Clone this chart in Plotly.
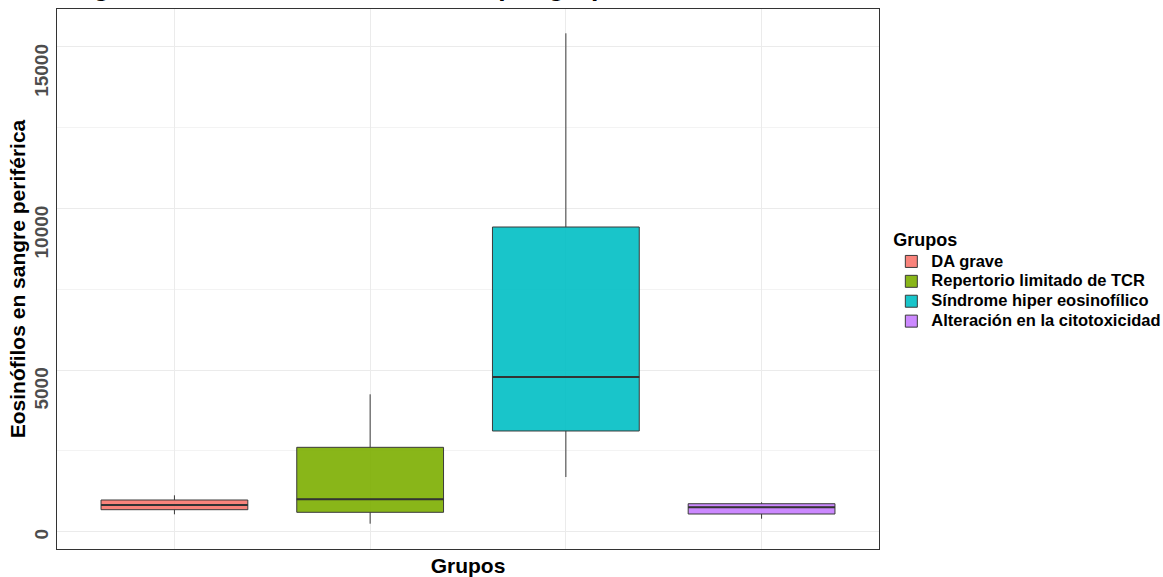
import plotly.graph_objects as go

# Eosinophil counts in peripheral blood, summarised per group
grupos = ["DA grave", "Repertorio limitado de TCR", "Síndrome hiper eosinofílico", "Alteración en la citotoxicidad"]
minimos = [538, 248, 1692, 402]
q1 = [681, 600, 3116, 548]
medianas = [826, 1002, 4786, 755]
q3 = [981, 2611, 9427, 866]
maximos = [1126, 4251, 15420, 910]

colores = ["248,118,109", "124,174,0", "0,191,196", "199,124,255"]
y_ticks = [0, 5000, 10000, 15000]

FONT = "Liberation Sans, Arial, sans-serif"
ANCHO = 0.75
FIG_SPACE = "\u2007"

# rotated labels end at their tick: pad each one with digit-wide spaces
y_ticktext = [str(v) + FIG_SPACE * len(str(v)) for v in y_ticks]

fig = go.Figure()
for i, g in enumerate(grupos):
    fig.add_trace(go.Box(
        x=[i], q1=[q1[i]], median=[medianas[i]], q3=[q3[i]],
        lowerfence=[minimos[i]], upperfence=[maximos[i]],
        name=f'<span style="font-size:16.5px">{g}</span>',
        width=ANCHO, whiskerwidth=0, boxpoints=False,
        fillcolor=f"rgba({colores[i]},0.9)",
        line=dict(color="#3a3a3a", width=1),
        hoverinfo="skip",
    ))
# thicker median bars
for i in range(len(grupos)):
    fig.add_trace(go.Scatter(
        x=[i - ANCHO / 2, i + ANCHO / 2], y=[medianas[i], medianas[i]],
        mode="lines", line=dict(color="#333333", width=2),
        showlegend=False, hoverinfo="skip",
    ))

fig.add_annotation(
    text="<b>Diagrama de eosinófilos absolutos por grupo</b>",
    xref="paper", yref="paper", x=-0.0085, y=1, xanchor="left", yanchor="bottom",
    yshift=5, showarrow=False, font=dict(family=FONT, size=26.5, color="black"),
)

fig.update_layout(
    width=1163, height=577,
    margin=dict(l=57, r=284, t=9, b=28, autoexpand=False),
    paper_bgcolor="white", plot_bgcolor="white",
    boxmode="overlay",
    font=dict(family=FONT, color="black"),
    legend=dict(
        title=dict(text="<b>Grupos</b>", font=dict(size=18, color="black")),
        font=dict(size=13, color="black", weight="bold"),
        x=1.015, xanchor="left", y=0.498, yanchor="middle",
        tracegroupgap=0, itemwidth=30,
    ),
    xaxis=dict(
        range=[-0.6, 3.6], showticklabels=False, ticks="",
        showgrid=True, gridcolor="#EBEBEB", gridwidth=1,
        tickvals=[0, 1, 2, 3], zeroline=False,
        showline=True, mirror=True, linecolor="#333333", linewidth=1,
        title=dict(text="<b>Grupos</b>", font=dict(size=21, color="black"), standoff=10),
    ),
    yaxis=dict(
        range=[-535, 16172], tickvals=y_ticks, ticktext=y_ticktext,
        tickangle=-90, tickfont=dict(size=19, color="#4D4D4D", weight="bold"),
        ticklabeloverflow="allow",
        ticks="", showgrid=True, gridcolor="#EBEBEB", gridwidth=1, zeroline=False,
        minor=dict(showgrid=True, gridcolor="#F3F3F3", gridwidth=1, tickvals=[2500, 7500, 12500]),
        showline=True, mirror=True, linecolor="#333333", linewidth=1,
        title=dict(text="<b>Eosinófilos en sangre periférica</b>", font=dict(size=21, color="black"), standoff=0),
    ),
)

fig.write_html("out.html")
